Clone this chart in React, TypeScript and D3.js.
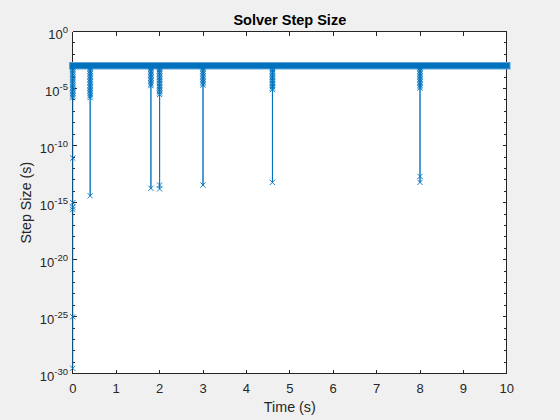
import React from "react";
import * as d3 from "d3";

const W = 560;
const H = 420;

const xTicks = [0, 1, 2, 3, 4, 5, 6, 7, 8, 9, 10];
const yTickExponents = [0, -5, -10, -15, -20, -25, -30];

const steadyTimes = [0, 10];
const steadyStep = 1e-3;

const eventTimes = [0, 0.4, 1.8, 2.0, 3.0, 4.6, 8.0];
const eventDipSteps = [
  [3e-30, 1e-25, 2.5e-16, 4e-16, 1e-15, 8e-12],
  [4e-15],
  [1.8e-14],
  [3.5e-14, 1.6e-14],
  [3.5e-14],
  [6e-14],
  [2e-13, 6e-14],
];
const eventRecoverySteps = [
  [1.6e-6, 2.2e-6, 3e-6, 4e-6, 5.5e-6, 7.5e-6, 1e-5, 1.4e-5, 2e-5, 2.8e-5, 4e-5, 5.5e-5, 7.5e-5, 1e-4, 1.4e-4, 2e-4, 2.8e-4, 4e-4, 5.5e-4, 7.5e-4],
  [1.6e-6, 2.3e-6, 3.2e-6, 4.5e-6, 6e-6, 8e-6, 1.1e-5, 1.5e-5, 2e-5, 2.8e-5, 3.8e-5, 5e-5, 7e-5, 9.5e-5, 1.3e-4, 1.8e-4, 2.5e-4, 3.4e-4, 4.7e-4, 6.5e-4, 8.5e-4],
  [1.8e-5, 2.4e-5, 3.2e-5, 4.5e-5, 6e-5, 8e-5, 1.1e-4, 1.5e-4, 2e-4, 2.7e-4, 3.6e-4, 5e-4, 6.5e-4, 8.5e-4],
  [3e-6, 4.2e-6, 5.8e-6, 8e-6, 1.1e-5, 1.5e-5, 2e-5, 2.8e-5, 3.8e-5, 5.2e-5, 7e-5, 9.5e-5, 1.3e-4, 1.8e-4, 2.5e-4, 3.4e-4, 4.7e-4, 6.5e-4, 8.5e-4],
  [2e-5, 2.7e-5, 3.6e-5, 5e-5, 7e-5, 9.5e-5, 1.3e-4, 1.8e-4, 2.5e-4, 3.4e-4, 4.7e-4, 6.5e-4, 8.5e-4],
  [8e-6, 1.1e-5, 1.5e-5, 2e-5, 2.8e-5, 3.8e-5, 5.2e-5, 7e-5, 9.5e-5, 1.3e-4, 1.8e-4, 2.5e-4, 3.4e-4, 4.7e-4, 6.5e-4, 8.5e-4],
  [1.1e-5, 1.5e-5, 2e-5, 2.8e-5, 3.8e-5, 5.2e-5, 7e-5, 9.5e-5, 1.3e-4, 1.8e-4, 2.5e-4, 3.4e-4, 4.7e-4, 6.5e-4, 8.5e-4],
];

const BLUE = "#0072BD";
const AX = "#262626";
const FONT = "'Liberation Sans', Arial, Helvetica, sans-serif";

const left = 72.8;
const right = 506.8;
const top = 31.5;
const bottom = 373.8;

export default function App() {
  const x = d3.scaleLinear().domain([0, 10]).range([left, right]);
  const y = d3.scaleLog().domain([1e-30, 1]).range([bottom, top]);

  const lineGen = d3
    .line<[number, number]>()
    .x((d) => x(d[0]))
    .y((d) => y(d[1]));

  const steadyPath = lineGen(steadyTimes.map((t) => [t, steadyStep] as [number, number])) || "";

  const eventPaths = eventTimes.map((t, i) => {
    const pts: [number, number][] = [];
    if (i > 0) pts.push([t, steadyStep]);
    eventDipSteps[i].forEach((v) => pts.push([t, v]));
    eventRecoverySteps[i].forEach((v) => pts.push([t, v]));
    pts.push([t, steadyStep]);
    return lineGen(pts) || "";
  });

  const markers: [number, number][] = [];
  eventTimes.forEach((t, i) => {
    eventDipSteps[i].forEach((v) => markers.push([t, v]));
    eventRecoverySteps[i].forEach((v) => markers.push([t, v]));
  });

  const minorExps = d3.range(-30, 1).filter((e) => e % 5 !== 0);
  const ms = 2.6;
  const xMarker = `M${-ms},${-ms}L${ms},${ms}M${-ms},${ms}L${ms},${-ms}`;

  return (
    <svg
      width={W}
      height={H}
      style={{ position: "absolute", left: 0, top: 0, display: "block" }}
      fontFamily={FONT}
    >
      <rect x={0} y={0} width={W} height={H} fill="#f0f0f0" />
      <rect x={left} y={top} width={right - left} height={bottom - top} fill="#ffffff" />

      {/* axes box */}
      <g stroke={AX} strokeWidth={1} shapeRendering="crispEdges" fill="none">
        <line x1={left} x2={right} y1={bottom} y2={bottom} />
        <line x1={left} x2={right} y1={top} y2={top} />
        <line x1={left} x2={left} y1={top} y2={bottom} />
        <line x1={right} x2={right} y1={top} y2={bottom} />
        {xTicks.map((t) => (
          <g key={"xt" + t}>
            <line x1={x(t)} x2={x(t)} y1={bottom} y2={bottom - 4.3} />
            <line x1={x(t)} x2={x(t)} y1={top} y2={top + 4.3} />
          </g>
        ))}
        {yTickExponents.map((e) => (
          <g key={"yt" + e}>
            <line x1={left} x2={left + 4.3} y1={y(Math.pow(10, e))} y2={y(Math.pow(10, e))} />
            <line x1={right} x2={right - 4.3} y1={y(Math.pow(10, e))} y2={y(Math.pow(10, e))} />
          </g>
        ))}
        {minorExps.map((e) => (
          <g key={"ym" + e}>
            <line x1={left} x2={left + 2.4} y1={y(Math.pow(10, e))} y2={y(Math.pow(10, e))} />
            <line x1={right} x2={right - 2.4} y1={y(Math.pow(10, e))} y2={y(Math.pow(10, e))} />
          </g>
        ))}
      </g>

      {/* data */}
      <path d={steadyPath} stroke="#5fa3d9" strokeWidth={7.5} strokeLinecap="square" fill="none" />
      <path d={steadyPath} stroke={BLUE} strokeWidth={5.5} strokeLinecap="square" fill="none" />
      {eventPaths.map((d, i) => (
        <path key={"ep" + i} d={d} stroke={BLUE} strokeWidth={0.9} fill="none" />
      ))}
      {markers.map((m, i) => (
        <path
          key={"m" + i}
          d={xMarker}
          transform={`translate(${x(m[0])},${y(m[1])})`}
          stroke={BLUE}
          strokeWidth={0.9}
          fill="none"
        />
      ))}

      {/* tick labels */}
      {xTicks.map((t) => (
        <text key={"xl" + t} x={x(t)} y={393} textAnchor="middle" fontSize={13} fill={AX}>
          {t}
        </text>
      ))}
      {yTickExponents.map((e) => (
        <text
          key={"yl" + e}
          x={68}
          y={y(Math.pow(10, e)) + 7}
          textAnchor="end"
          fontSize={13}
          fill={AX}
        >
          <tspan>10</tspan>
          <tspan dy={-5.5} fontSize={9.5}>
            {String(e)}
          </tspan>
        </text>
      ))}

      {/* labels */}
      <text x={(left + right) / 2} y={412} textAnchor="middle" fontSize={14.3} fill={AX}>
        Time (s)
      </text>
      <text
        transform={`translate(31,${(top + bottom) / 2}) rotate(-90)`}
        textAnchor="middle"
        fontSize={14.3}
        fill={AX}
      >
        Step Size (s)
      </text>
      <text
        x={(left + right) / 2}
        y={25}
        textAnchor="middle"
        fontSize={14.5}
        fontWeight="bold"
        fill="#000"
      >
        Solver Step Size
      </text>
    </svg>
  );
}
